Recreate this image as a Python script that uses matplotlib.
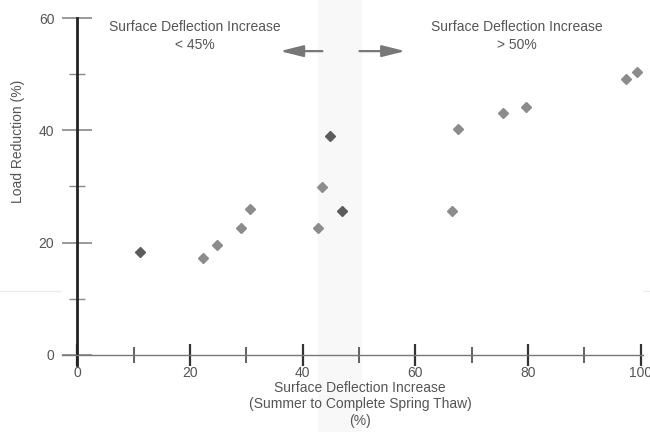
import matplotlib.pyplot as plt
from matplotlib.lines import Line2D

# Surface deflection increase (%) vs load reduction (%)
light_x = [22.3, 24.8, 29.1, 30.7, 42.7, 43.5, 66.5, 67.6, 75.6, 79.6, 97.3, 99.3]
light_y = [17.3, 19.5, 22.6, 25.9, 22.6, 29.9, 25.7, 40.2, 43.0, 44.2, 49.2, 50.3]
dark_x = [11.1, 44.9, 46.9]
dark_y = [18.3, 39.0, 25.7]

x_ticks = [0, 20, 40, 60, 80, 100]
y_ticks = [0, 20, 40, 60]

plt.rcParams["font.family"] = ["Liberation Sans", "DejaVu Sans"]
text_color = "#555555"

fig = plt.figure(figsize=(6.5, 4.32), dpi=100)
ax = fig.add_axes([62 / 650, 67 / 432, 581 / 650, 347 / 432])
ax.set_xlim(-2.7, 100.4)
ax.set_ylim(-1.8, 60)

# faint band separating the two regimes
ax.axvspan(42.8, 50.3, ymin=-0.2, ymax=1.1, color="#f8f8f8", zorder=0, clip_on=False)

ax.plot(light_x, light_y, "D", color="#8c8c8c", markersize=5.5, zorder=3, clip_on=False)
ax.plot(dark_x, dark_y, "D", color="#5c5c5c", markersize=5.5, zorder=3, clip_on=False)

for s in ["top", "right"]:
    ax.spines[s].set_visible(False)
ax.spines["left"].set_position(("data", 0))
ax.spines["left"].set_color("#222222")
ax.spines["left"].set_linewidth(2)
ax.spines["bottom"].set_position(("data", 0))
ax.spines["bottom"].set_color("#777777")
ax.spines["bottom"].set_linewidth(1)

ax.set_xticks(x_ticks)
ax.set_yticks(y_ticks)
ax.set_xticks([10, 30, 50, 70, 90], minor=True)
ax.set_yticks([10, 30, 50], minor=True)
ax.tick_params(axis="x", which="major", direction="inout", length=16, width=1.6,
               color="#333333", labelcolor=text_color, labelsize=10, pad=0)
ax.tick_params(axis="x", which="minor", direction="inout", length=11, width=1.3,
               color="#555555")
ax.tick_params(axis="y", which="major", direction="inout", length=21, width=1.2,
               color="#888888", labelcolor=text_color, labelsize=10, pad=6)
ax.tick_params(axis="y", which="minor", direction="inout", length=11, width=1.0,
               color="#888888")

# axis titles
ax.text(50.2, -4.7, "Surface Deflection Increase\n(Summer to Complete Spring Thaw)\n(%)",
        ha="center", va="top", fontsize=10, color=text_color, linespacing=1.2)
fig.text(18 / 650, 1 - 141 / 432, "Load Reduction (%)", rotation=90, ha="center",
         va="center", fontsize=10, color=text_color)

# regime annotations
ax.text(20.9, 56.8, "Surface Deflection Increase\n< 45%", ha="center", va="center",
        fontsize=10, color=text_color, linespacing=1.4)
ax.text(78.0, 56.8, "Surface Deflection Increase\n> 50%", ha="center", va="center",
        fontsize=10, color=text_color, linespacing=1.4)
arrow = dict(arrowstyle="-|>,head_length=1.4,head_width=0.35", color="#777777", lw=1.6)
ax.annotate("", xy=(35.5, 54.1), xytext=(44.0, 54.1), arrowprops=arrow)
ax.annotate("", xy=(58.7, 54.1), xytext=(49.6, 54.1), arrowprops=arrow)

# faint scan line across the page
fig.add_artist(Line2D([0, 1], [1 - 291 / 432] * 2, color="#ececec", lw=1, zorder=0))

fig.savefig("out.png", dpi=100)
